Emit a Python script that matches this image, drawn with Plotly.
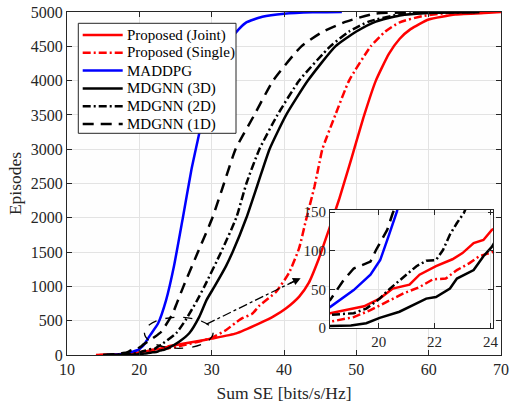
import plotly.graph_objects as go

# ---------------- data ----------------
maddpg_x = [15.5, 17, 18.25, 19.1, 19.7, 20.05, 20.35, 20.65, 21.5, 22.6, 23.7, 24.8, 26.0, 27.2, 28.3, 29.2, 31.0, 33.3, 34.7, 37, 40, 44, 48]
maddpg_y = [0, 8, 27, 49, 69, 88, 119, 151, 290, 463, 800, 1300, 1990, 2700, 3240, 3723, 4355, 4696, 4842, 4930, 4975, 4995, 5000]

joint_x = [14, 16, 18.25, 19.1, 19.47, 20.03, 20.5, 21.1, 21.46, 22.05, 22.64, 23.0, 23.4, 23.75, 24.05, 26, 28, 30, 33.4, 36.6, 38.5, 40.3, 42.1, 43.4, 44.8, 46.2, 47.6, 49.0, 49.7, 51.1, 52.7, 54.5, 56.0, 57.5, 60.0, 63.7, 68.3, 70]
joint_y = [0, 6, 19, 25, 28, 38, 51, 56, 69, 80, 89, 97, 110, 114, 127, 165, 200, 240, 316, 462, 559, 681, 851, 1047, 1400, 1825, 2263, 2750, 3000, 3500, 4000, 4390, 4610, 4750, 4891, 4964, 4988, 5000]

single_x = [14.5, 16, 18.25, 19.1, 19.7, 20.3, 20.9, 21.46, 21.94, 22.4, 22.8, 23.25, 23.6, 24.05, 26, 28, 30, 32, 33.3, 34.3, 35.6, 36.6, 38.9, 40.7, 42.1, 43.0, 44.2, 44.8, 45.3, 47.1, 49.0, 52.0, 54.0, 56.0, 59.1, 62.8, 67]
single_y = [0, 3, 8, 14, 23, 34, 45, 53, 63, 64, 75, 84, 93, 98, 140, 190, 250, 365, 470, 540, 600, 720, 920, 1200, 1560, 1950, 2450, 2750, 3000, 3500, 4000, 4500, 4715, 4850, 4939, 4988, 5000]

g3d_x = [15, 18.25, 19.0, 19.55, 20.03, 20.74, 21.1, 21.7, 22.05, 22.55, 22.8, 23.15, 23.4, 23.75, 24.05, 25.5, 26.9, 28.3, 29.3, 30.4, 32.0, 32.9, 34.8, 36.4, 38.0, 40.3, 43.3, 47.1, 50.0, 52.7, 56, 60, 67]
g3d_y = [0, 2, 3, 6, 13, 21, 27, 38, 40, 51, 64, 71, 75, 93, 105, 194, 317, 559, 803, 1000, 1300, 1500, 2000, 2500, 3000, 3500, 4000, 4500, 4715, 4860, 4950, 4985, 5000]

g2d_x = [15.5, 17, 18.25, 19.1, 19.55, 20.03, 20.4, 20.9, 21.35, 21.7, 22.05, 22.3, 22.55, 22.8, 23.05, 23.3, 25.1, 26.4, 27.9, 29.0, 31.3, 33.4, 34.8, 36.6, 39.1, 42.1, 46.4, 49.0, 51.7, 55.9, 60, 67]
g2d_y = [0, 6, 17, 19, 25, 38, 51, 66, 80, 87, 88, 101, 121, 136, 149, 171, 317, 511, 780, 1000, 1500, 2000, 2500, 3000, 3500, 4000, 4500, 4715, 4860, 4964, 4990, 5000]

g1d_x = [15, 16.5, 18.25, 18.74, 19.1, 19.7, 19.9, 20.3, 20.5, 21.2, 22.0, 23.0, 24.6, 25.2, 26.1, 28.1, 30.1, 31.7, 33.3, 35.9, 38.5, 42.4, 45.4, 48.6, 52.7, 60, 67]
g1d_y = [0, 10, 36, 62, 77, 86, 101, 127, 149, 195, 255, 335, 600, 760, 1000, 1500, 2000, 2500, 3000, 3500, 4000, 4500, 4715, 4860, 4978, 4995, 5000]

names = ["Proposed (Joint)", "Proposed (Single)", "MADDPG", "MDGNN (3D)", "MDGNN (2D)", "MDGNN (1D)"]
x_ticks = [10, 20, 30, 40, 50, 60, 70]
y_ticks = [0, 500, 1000, 1500, 2000, 2500, 3000, 3500, 4000, 4500, 5000]
inset_x_ticks = [20, 22, 24]
inset_y_ticks = [0, 50, 100, 150]

# ---------------- styles ----------------
DASHDOT = "8px,3px,2px,3px"
DASH = "11px,7px"
series = [
    (joint_x, joint_y, "#ff0000", "solid"),
    (single_x, single_y, "#ff0000", DASHDOT),
    (maddpg_x, maddpg_y, "#0000ff", "solid"),
    (g3d_x, g3d_y, "#000000", "solid"),
    (g2d_x, g2d_y, "#000000", DASHDOT),
    (g1d_x, g1d_y, "#000000", DASH),
]

FONT = "Liberation Serif, Times New Roman, serif"
INK = "#262626"
fig = go.Figure()

for (xs, ys, col, dash), nm in zip(series, names):
    fig.add_trace(go.Scatter(x=xs, y=ys, mode="lines", name=nm,
                             line=dict(color=col, width=2.5, dash=dash, shape="spline", smoothing=0.5),
                             xaxis="x", yaxis="y", showlegend=False))
for (xs, ys, col, dash), nm in zip(series, names):
    fig.add_trace(go.Scatter(x=xs, y=ys, mode="lines", name=nm,
                             line=dict(color=col, width=2.5, dash=dash),
                             xaxis="x2", yaxis="y2", showlegend=False))

axcommon = dict(showline=True, linecolor=INK, linewidth=1, mirror="ticks",
                ticks="inside", ticklen=5, tickcolor=INK, automargin=False,
                showgrid=True, gridcolor="#e3e3e3", gridwidth=1, zeroline=False,
                tickfont=dict(family=FONT, size=16, color=INK))
insetfont = dict(family=FONT, size=15, color=INK)

fig.update_layout(
    width=510, height=403,
    margin=dict(l=67, r=9, t=12, b=48),
    paper_bgcolor="#ffffff", plot_bgcolor="#fefefe",
    font=dict(family=FONT, color=INK),
    xaxis=dict(domain=[0, 1], range=[10, 70], tickvals=x_ticks,
               title=dict(text="Sum SE [bits/s/Hz]", font=dict(family=FONT, size=17.5, color=INK), standoff=9),
               **axcommon),
    yaxis=dict(domain=[0, 1], range=[0, 5000], tickvals=y_ticks,
               title=dict(text="Episodes", font=dict(family=FONT, size=17.5, color=INK), standoff=4),
               **axcommon),
    xaxis2=dict(domain=[0.606, 0.982], range=[18.25, 24.1], tickvals=inset_x_ticks,
                anchor="y2", **{**axcommon, "tickfont": insetfont}),
    yaxis2=dict(domain=[0.079, 0.423], range=[0, 153], tickvals=inset_y_ticks,
                anchor="x2", **{**axcommon, "tickfont": insetfont}),
    showlegend=False,
)

# ellipse highlighting the zoomed region
fig.add_shape(type="circle", xref="x", yref="y", x0=20.7, x1=30.2, y0=98, y1=550,
              line=dict(color="#000000", width=1.3, dash="dash"))
# dash-dot arrow to the inset
fig.add_shape(type="line", xref="x", yref="y", x0=29.3, y0=450, x1=41.6, y1=1085,
              line=dict(color="#000000", width=1.3, dash="dashdot"))
fig.add_annotation(x=42.3, y=1120, ax=40.6, ay=1033, xref="x", yref="y", axref="x", ayref="y",
                   text="", showarrow=True, arrowhead=2, arrowsize=1.2, arrowwidth=1.3,
                   arrowcolor="#000000")

# ---------------- legend (drawn in paper coordinates) ----------------
W, H = 510 - 67 - 9, 403 - 12 - 48
def px(xp):  # pixel x -> paper
    return (xp - 67) / W
def py(yp):  # pixel y -> paper
    return (355 - yp) / H

fig.add_shape(type="rect", xref="paper", yref="paper", layer="above",
              x0=px(78.3), x1=px(236), y0=py(133.3), y1=py(23.3),
              fillcolor="#ffffff", line=dict(color=INK, width=1))
row0, step = 35.0, 17.8
for i, ((xs, ys, col, dash), nm) in enumerate(zip(series, names)):
    yc = row0 + i * step
    fig.add_shape(type="line", xref="paper", yref="paper", layer="above",
                  x0=px(82.7), x1=px(122.7), y0=py(yc), y1=py(yc),
                  line=dict(color=col, width=2.5, dash=dash))
    fig.add_annotation(x=px(125), y=py(yc), xref="paper", yref="paper",
                       text=nm, showarrow=False, xanchor="left", yanchor="middle",
                       font=dict(family=FONT, size=15, color="#000000"))

fig.write_html("out.html", config={"displayModeBar": False},
               post_script="document.body.style.margin='0';")
